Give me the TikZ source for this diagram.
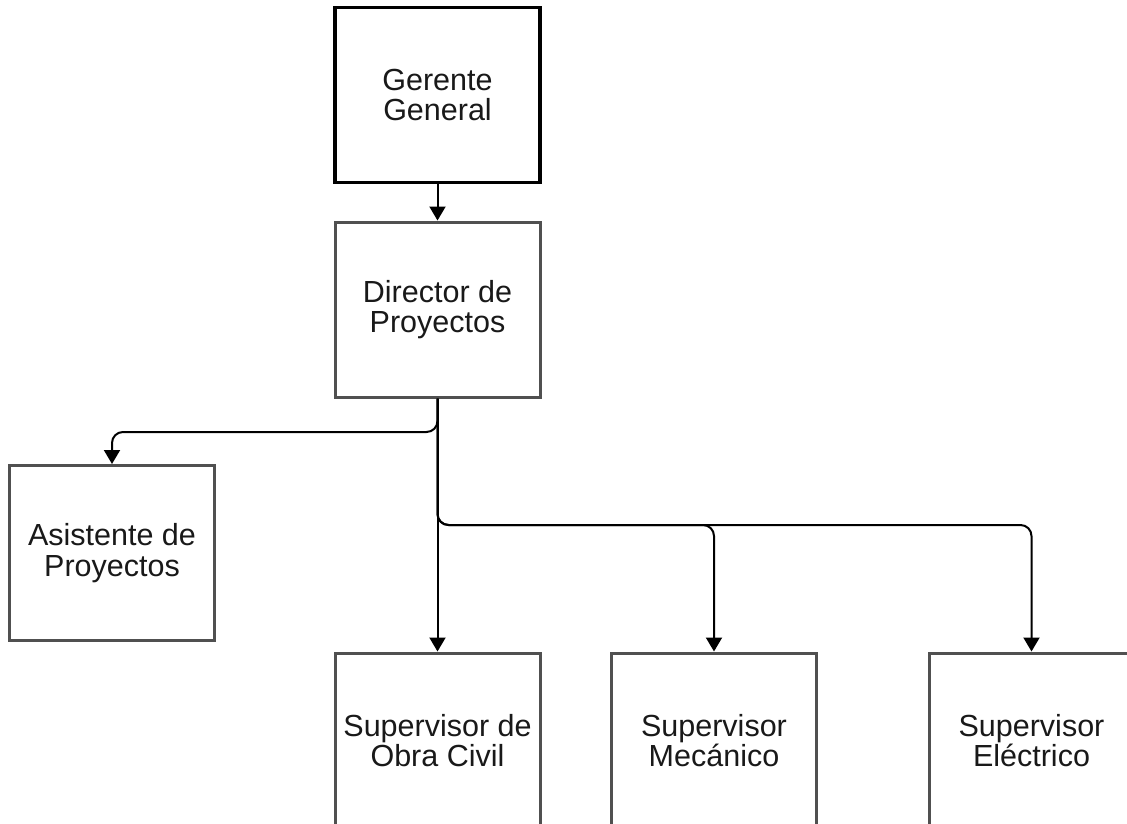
\documentclass[tikz,border=0pt]{standalone}
\usepackage{fontspec}
\setmainfont{Liberation Sans}
\usetikzlibrary{arrows.meta}
\definecolor{boxgray}{HTML}{505050}
\tikzset{
  role/.style={draw=boxgray, line width=3pt, fill=white, minimum width=205pt,
    minimum height=175pt, inner sep=0pt, align=center,
    font=\fontsize{30.5}{30.5}\selectfont, text=black!90},
  headrole/.style={role, draw=black, line width=3.5pt},
  link/.style={draw=black, line width=2pt, rounded corners=11pt,
    -{Triangle[length=14pt,width=16pt]}}
}
\begin{document}
\begin{tikzpicture}[x=1pt,y=-1pt]
  \useasboundingbox (0,0) rectangle (1127,824);
  \clip (0,0) rectangle (1127,824);
  \fill[white] (0,0) rectangle (1127,824);

  % organisation boxes
  \node[headrole] (gg) at (437.5,95)   {Gerente\\General};
  \node[role]     (dp) at (437.5,309.5) {Director de\\Proyectos};
  \node[role]     (ap) at (112,553)    {Asistente de\\Proyectos};
  \node[role]     (soc) at (437.5,740.5) {Supervisor de\\Obra Civil};
  \node[role]     (sm) at (714,740.5)  {Supervisor\\Mecánico};
  \node[role]     (se) at (1031.5,740.5) {Supervisor\\Eléctrico};

  % heights of the horizontal runs
  \coordinate (busA) at (0,432);
  \coordinate (busB) at (0,525);

  % reporting lines
  \draw[link] (gg.south) -- (dp.north);
  \draw[link] (dp.south) -- (dp.south |- busA) -- (ap.north |- busA) -- (ap.north);
  \draw[link] (dp.south) -- (soc.north);
  \draw[link] (dp.south) -- (dp.south |- busB) -- (sm.north |- busB) -- (sm.north);
  \draw[link] (dp.south) -- (dp.south |- busB) -- (se.north |- busB) -- (se.north);
\end{tikzpicture}
\end{document}
